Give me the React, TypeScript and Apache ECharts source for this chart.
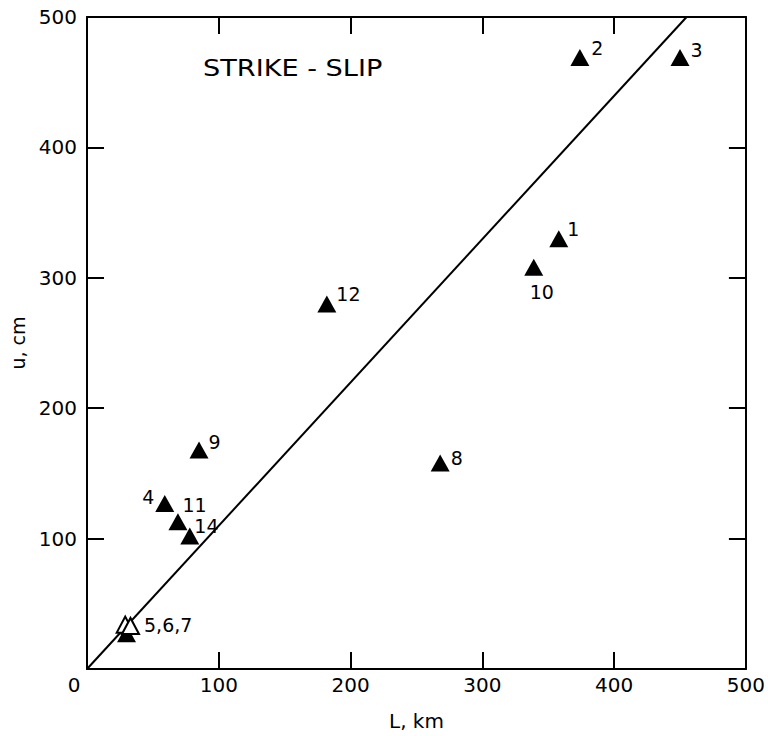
import React, { useEffect, useRef } from "react";
import * as echarts from "echarts";

// Event numbers with their fault length L (km) and average slip u (cm)
const eventIds = ["1", "2", "3", "4", "8", "9", "10", "11", "12", "14"];
const lengthKm = [358, 374, 450, 59, 268, 85, 339, 69, 182, 78];
const slipCm = [330, 469, 469, 127, 158, 168, 308, 113, 280, 102];

// Events 5, 6, 7 (overlapping cluster)
const clusterLabel = "5,6,7";
const clusterFilled = [30, 27];
const clusterOpen = [
  [29, 34],
  [33, 33],
];

// Fitted line u = 1.1 L
const fitLine = [
  [0, 0],
  [455, 500],
];

const axisMin = 0;
const axisMax = 500;
const axisStep = 100;
const titleText = "STRIKE - SLIP";
const xName = "L, km";
const yName = "u, cm";

const FONT = "DejaVu Sans";

// label placement per event (style only)
const labelPlacement: Record<string, { position: string; distance: number; offset: number[] }> = {
  "1": { position: "right", distance: 0, offset: [-1, -10] },
  "2": { position: "right", distance: 2, offset: [0, -9] },
  "3": { position: "right", distance: 1, offset: [0, -7] },
  "4": { position: "left", distance: 1, offset: [0, -6] },
  "8": { position: "right", distance: 1, offset: [0, -5] },
  "9": { position: "right", distance: 0, offset: [0, -8] },
  "10": { position: "bottom", distance: 7, offset: [8, 0] },
  "11": { position: "right", distance: 0, offset: [-5, -17] },
  "12": { position: "right", distance: 0, offset: [0, -10] },
  "14": { position: "right", distance: 0, offset: [-5, -10] },
};

export default function App() {
  const ref = useRef<HTMLDivElement>(null);

  useEffect(() => {
    if (!ref.current) return;
    const chart = echarts.init(ref.current, undefined, { renderer: "svg" });

    const labelBase = {
      show: true,
      color: "#000",
      fontFamily: FONT,
      fontSize: 19,
    };

    const mainData = eventIds.map((id, i) => ({
      value: [lengthKm[i], slipCm[i]],
      name: id,
      label: {
        ...labelBase,
        formatter: id,
        position: labelPlacement[id].position,
        distance: labelPlacement[id].distance,
        offset: labelPlacement[id].offset,
      },
    }));

    const axisCommon = {
      type: "value",
      min: axisMin,
      max: axisMax,
      interval: axisStep,
      splitLine: { show: false },
      axisLine: { show: true, onZero: false, lineStyle: { color: "#000", width: 2 } },
      axisTick: { show: true, inside: true, length: 17, lineStyle: { color: "#000", width: 2 } },
    };

    chart.setOption({
      animation: false,
      backgroundColor: "#fff",
      grid: { left: 86, right: 21, top: 17, bottom: 59, containLabel: false },
      xAxis: [
        {
          ...axisCommon,
          position: "bottom",
          name: xName,
          nameLocation: "middle",
          nameGap: 42,
          nameTextStyle: { color: "#000", fontFamily: FONT, fontSize: 20 },
          axisLabel: {
            color: "#000",
            fontFamily: FONT,
            fontSize: 20,
            margin: 6,
            formatter: (v: number) => (v === 0 ? "{z|0}" : String(v)),
            rich: {
              z: { color: "#000", fontFamily: FONT, fontSize: 20, padding: [0, 26, 0, 0] },
            },
          },
        },
        {
          ...axisCommon,
          position: "top",
          axisLabel: { show: false },
        },
      ],
      yAxis: [
        {
          ...axisCommon,
          position: "left",
          name: yName,
          nameLocation: "middle",
          nameGap: 60,
          nameRotate: 90,
          nameTextStyle: { color: "#000", fontFamily: FONT, fontSize: 19 },
          axisLabel: {
            color: "#000",
            fontFamily: FONT,
            fontSize: 20,
            margin: 10,
            showMinLabel: false,
          },
        },
        {
          ...axisCommon,
          position: "right",
          axisLabel: { show: false },
        },
      ],
      graphic: [
        {
          type: "text",
          left: 203,
          top: 57,
          scaleX: 1.18,
          style: {
            text: titleText,
            fill: "#000",
            font: `23px "${FONT}"`,
          },
        },
      ],
      series: [
        {
          type: "line",
          data: fitLine,
          symbol: "none",
          lineStyle: { color: "#000", width: 2 },
          z: 2,
          silent: true,
        },
        {
          type: "scatter",
          data: mainData,
          symbol: "triangle",
          symbolSize: [19, 17],
          itemStyle: { color: "#000", opacity: 1 },
          z: 3,
        },
        {
          type: "scatter",
          data: [
            {
              value: clusterFilled,
              label: {
                ...labelBase,
                formatter: clusterLabel,
                position: "right",
                distance: 8,
                offset: [0, -9],
              },
            },
          ],
          symbol: "triangle",
          symbolSize: [19, 17],
          itemStyle: { color: "#000", opacity: 1 },
          z: 3,
        },
        {
          type: "scatter",
          data: clusterOpen,
          symbol: "triangle",
          symbolSize: [17, 16],
          itemStyle: { color: "#fff", borderColor: "#000", borderWidth: 2, opacity: 1 },
          z: 4,
        },
      ],
    });

    return () => chart.dispose();
  }, []);

  return (
    <div
      ref={ref}
      style={{ position: "absolute", left: 0, top: 0, width: 768, height: 736 }}
    />
  );
}
